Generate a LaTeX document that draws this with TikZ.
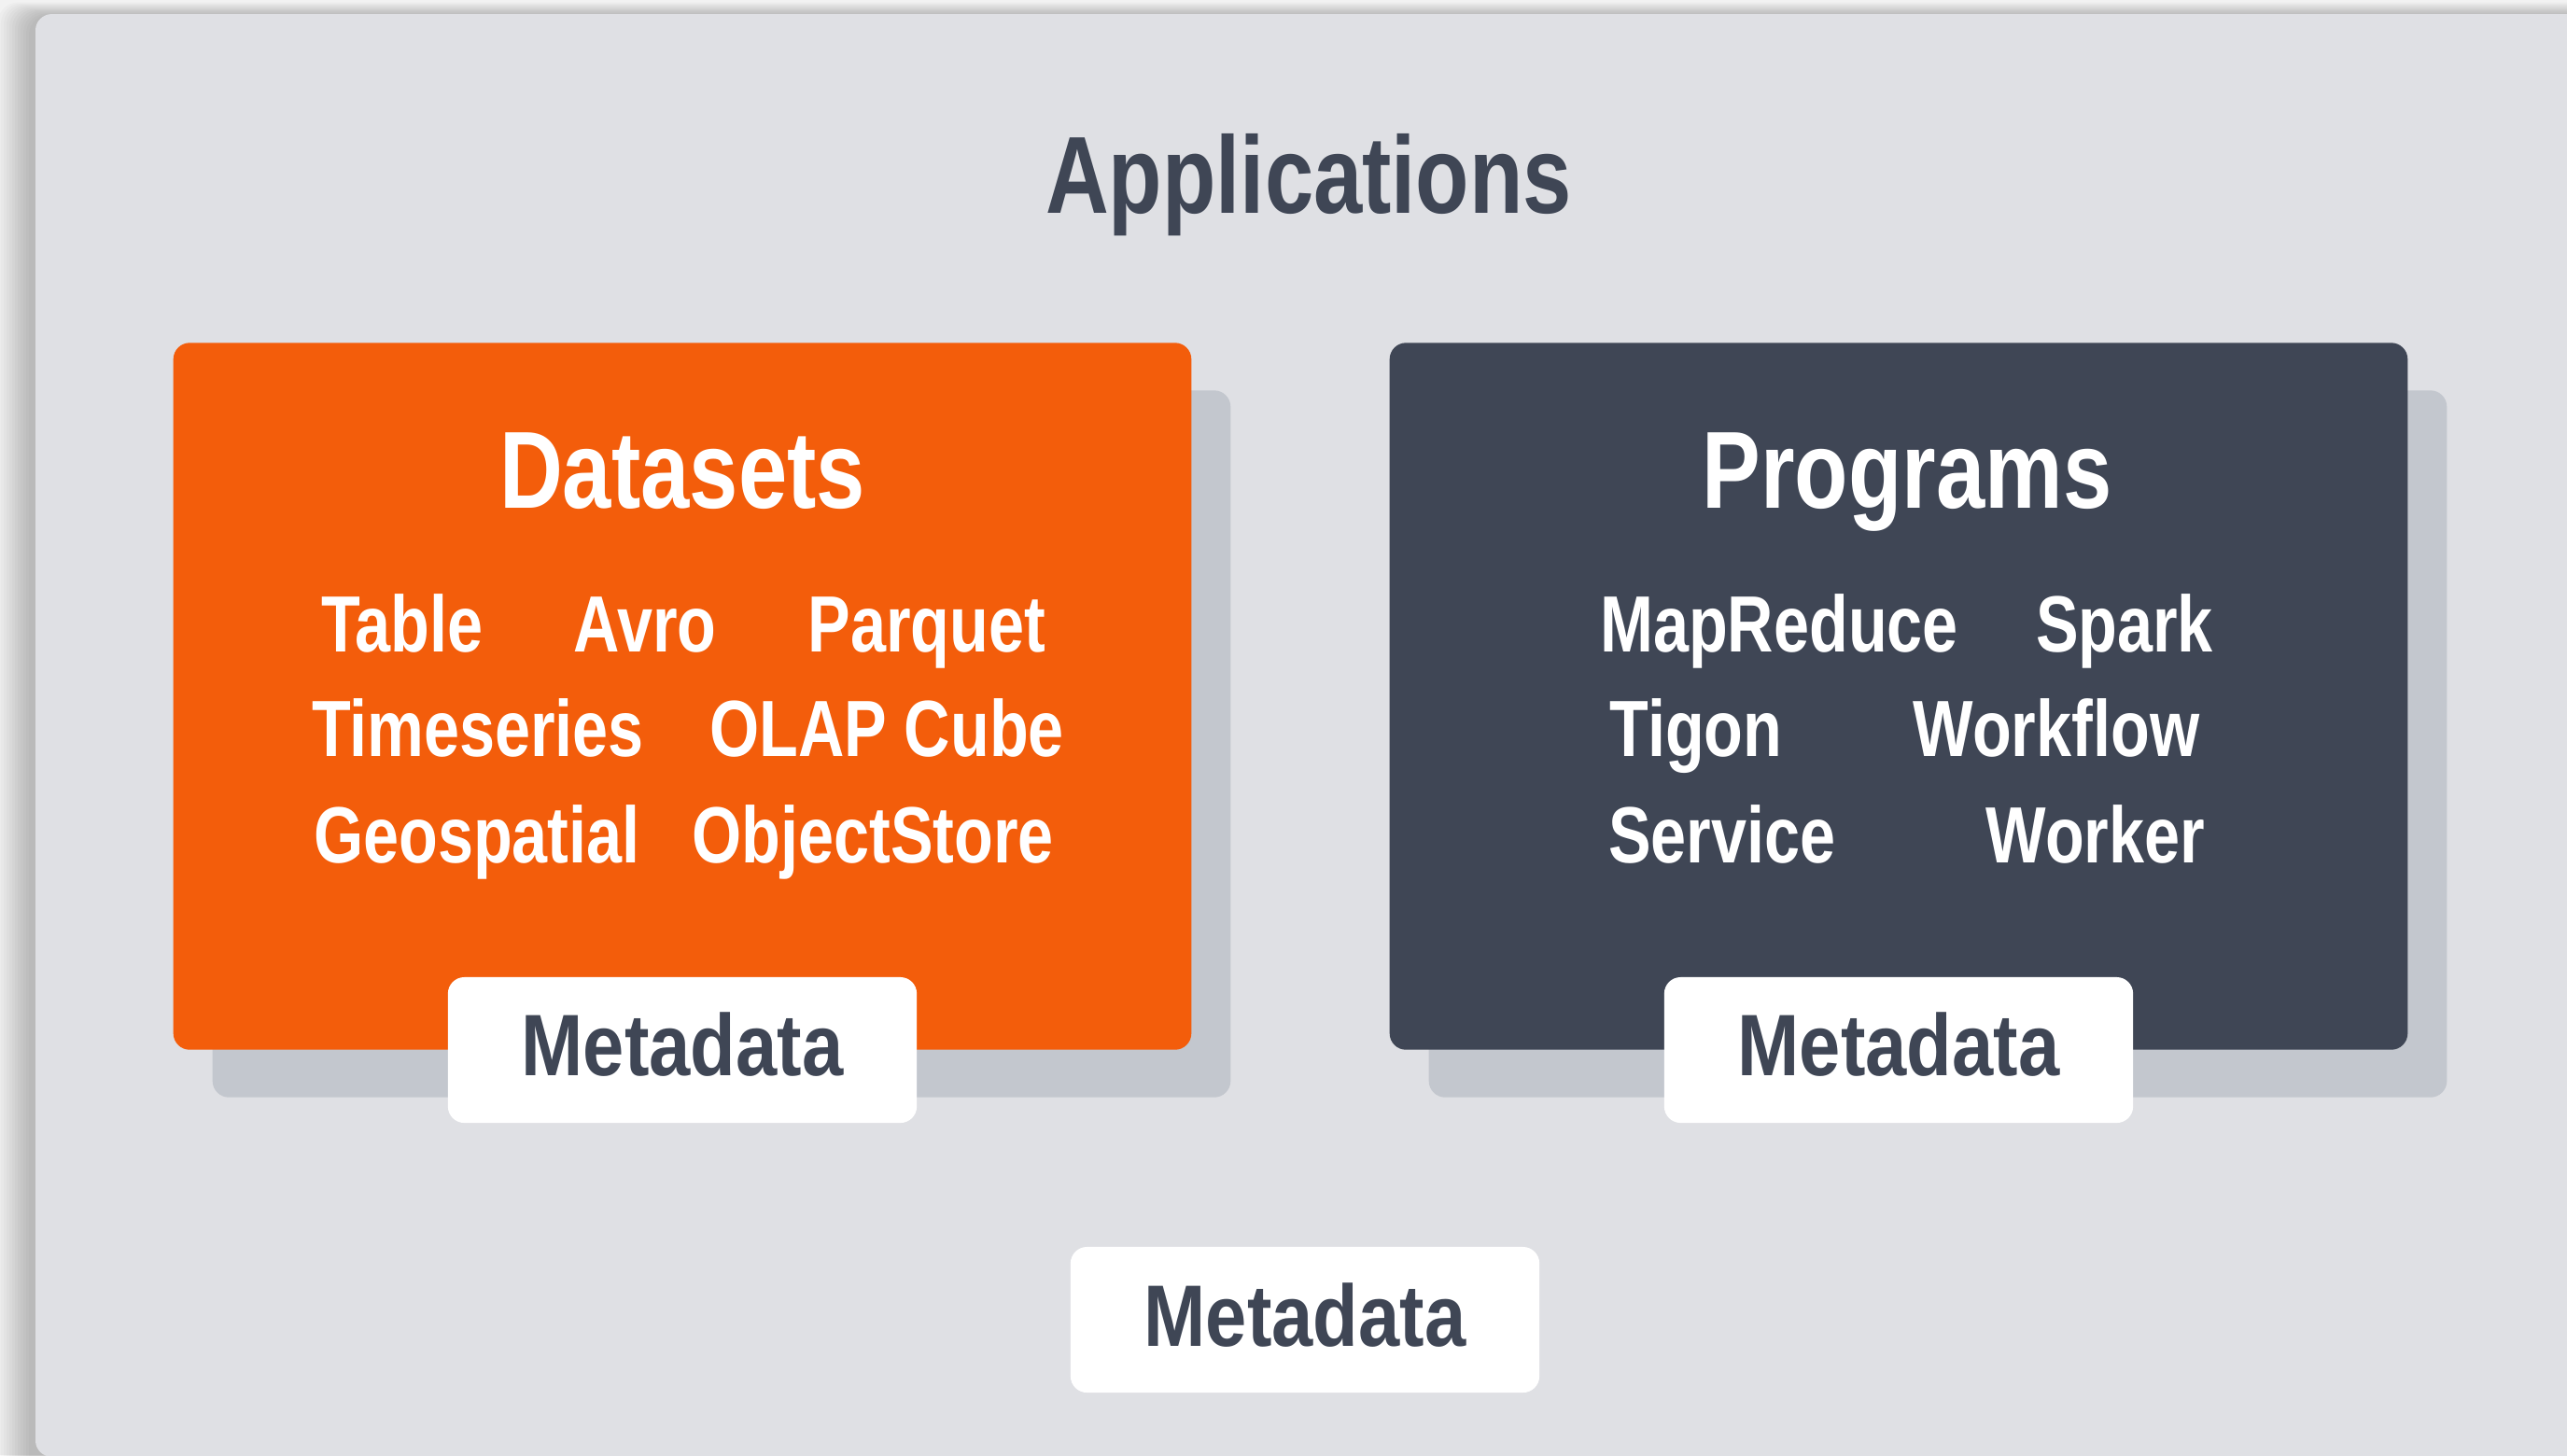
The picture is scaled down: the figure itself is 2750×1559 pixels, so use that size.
\documentclass[tikz,border=0pt]{standalone}
\usepackage{fontspec}
\newfontfamily\cond[FakeStretch=0.8]{Liberation Sans}
\newfontfamily\condm[FakeStretch=0.85]{Liberation Sans}
\definecolor{bgout}{HTML}{F2F2F2}
\definecolor{panelc}{HTML}{DFE0E4}
\definecolor{orng}{HTML}{F35D0B}
\definecolor{slate}{HTML}{3F4655}
\definecolor{shade}{HTML}{C3C7CE}
\begin{document}
\begin{tikzpicture}[x=0.01cm,y=-0.01cm,
  box/.style={rectangle,rounded corners=5pt,inner sep=0pt,outer sep=0pt},
  bigbox/.style={box,minimum width=10.9cm,minimum height=7.57cm},
  metabox/.style={box,fill=white,minimum width=5.02cm,minimum height=1.56cm},
  ttl/.style={anchor=base,inner sep=0pt,font=\cond\bfseries\fontsize{33.4}{38}\selectfont},
  itm/.style={anchor=base,inner sep=0pt,text=white,font=\cond\bfseries\fontsize{24.3}{28}\selectfont},
  meta/.style={anchor=base,inner sep=0pt,text=slate,font=\condm\bfseries\fontsize{26.6}{30}\selectfont}]
\fill[bgout] (0,0) rectangle (2750,1559);
\useasboundingbox (0,0) rectangle (2750,1559);
% soft shadow of the outer panel
\foreach \i in {1,...,12}{
  \fill[black,opacity=0.018,rounded corners=6pt] (38-\i*3-4,15-\i*1.2+2) rectangle (2900,1700);
}
\node[box,fill=panelc,anchor=north west,minimum width=28cm,minimum height=15.45cm] (panel) at (38,15) {};
\node[ttl,text=slate] (apps) at (1402,228) {Applications};
% shadows of the two boxes
\node[bigbox,fill=shade] (dsshadow) at (773,797) {};
\node[bigbox,fill=shade] (prshadow) at (2076,797) {};
% the two boxes
\node[bigbox,fill=orng] (datasets) at (731,746) {};
\node[bigbox,fill=slate] (programs) at (2034,746) {};
\node[ttl,text=white] (dstitle) at (731,544) {Datasets};
\node[ttl,text=white] (prtitle) at (2043,544) {Programs};
% dataset items
\node[itm] (table) at (431,698) {Table};
\node[itm] (avro) at (691,698) {Avro};
\node[itm] (parquet) at (993,698) {Parquet};
\node[itm] (timeseries) at (512,810) {Timeseries};
\node[itm] (olap) at (950,810) {OLAP Cube};
\node[itm] (geo) at (511,924) {Geospatial};
\node[itm] (objstore) at (935,924) {ObjectStore};
% program items
\node[itm] (mapreduce) at (1906,698) {MapReduce};
\node[itm] (spark) at (2276,698) {Spark};
\node[itm] (tigon) at (1817,810) {Tigon};
\node[itm] (workflow) at (2203,810) {Workflow};
\node[itm] (service) at (1845,924) {Service};
\node[itm] (worker) at (2245,924) {Worker};
% metadata boxes
\node[metabox] (meta1) at (731,1125) {};
\node[metabox] (meta2) at (2034,1125) {};
\node[metabox] (meta3) at (1398,1414) {};
\node[meta] (meta1t) at (731,1152) {Metadata};
\node[meta] (meta2t) at (2034,1152) {Metadata};
\node[meta] (meta3t) at (1398,1442) {Metadata};
\end{tikzpicture}
\end{document}
